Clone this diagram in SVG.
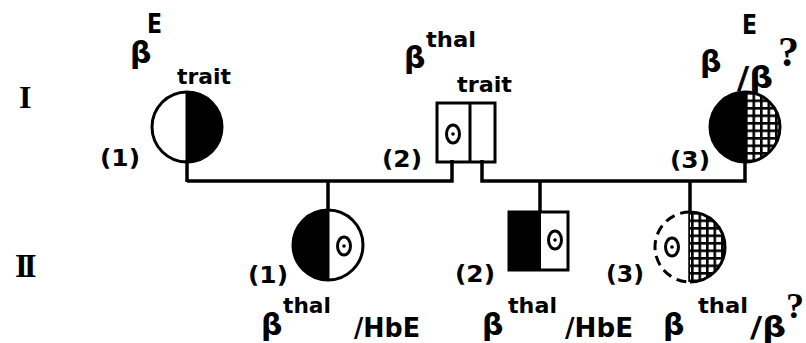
<svg xmlns="http://www.w3.org/2000/svg" width="806" height="343" viewBox="0 0 806 343">
<style>
.t{font-family:"DejaVu Sans","Liberation Sans",Arial,sans-serif;font-weight:bold;fill:#000}
.r{font-family:"Liberation Serif","Times New Roman",serif;font-weight:bold;fill:#000}
.ln{stroke:#000;stroke-width:3.5;fill:none}
.o{stroke:#000;stroke-width:3;fill:none}
.blk{fill:#000}
</style>
<defs>
<pattern id="grid" patternUnits="userSpaceOnUse" x="745" y="92" width="7.5" height="7.5">
<rect width="7.5" height="7.5" fill="#000"/>
<rect x="2.6" y="2.6" width="4.9" height="4.9" fill="#fff"/>
</pattern>
<pattern id="grid2" patternUnits="userSpaceOnUse" x="691" y="212" width="7.5" height="7.5">
<rect width="7.5" height="7.5" fill="#000"/>
<rect x="2.6" y="2.6" width="4.9" height="4.9" fill="#fff"/>
</pattern>
</defs>

<text class="r" x="19" y="108" font-size="32" font-weight="normal">I</text>
<text class="r" x="15" y="277" font-size="33" letter-spacing="-4">II</text>

<g id="connectors">
<line class="ln" x1="187" y1="160" x2="187" y2="182"/>
<polyline class="ln" points="187,181 452,181 452,160"/>
<polyline class="ln" points="482,160 482,181 745,181 745,160"/>
<line class="ln" x1="328" y1="181" x2="328" y2="210"/>
<line class="ln" x1="540" y1="181" x2="540" y2="212"/>
<line class="ln" x1="690" y1="181" x2="690" y2="282"/>
</g>

<g id="I-1">
<path class="blk" d="M187,92 A35,35 0 0 1 187,162 Z"/>
<circle class="o" cx="187" cy="127" r="35"/>
<line class="o" x1="187" y1="92" x2="187" y2="162"/>
<text class="t" x="130" y="63" font-size="30">β</text>
<text class="t" x="147" y="33" font-size="26" textLength="15" lengthAdjust="spacingAndGlyphs">E</text>
<text class="t" x="177" y="84" font-size="22" textLength="54" lengthAdjust="spacingAndGlyphs">trait</text>
<text class="t" x="100" y="166" font-size="23" textLength="40" lengthAdjust="spacingAndGlyphs">(1)</text>
</g>

<g id="I-2">
<rect class="o" x="437" y="103" width="58" height="59" fill="#fff"/>
<line class="o" x1="470" y1="103" x2="470" y2="162"/>
<ellipse class="o" cx="453" cy="134" rx="6.5" ry="9" stroke-width="2.5"/>
<circle class="blk" cx="453" cy="134" r="1.8"/>
<text class="t" x="404" y="68" font-size="30">β</text>
<text class="t" x="426" y="47" font-size="22" textLength="50" lengthAdjust="spacingAndGlyphs">thal</text>
<text class="t" x="457" y="92" font-size="22" textLength="55" lengthAdjust="spacingAndGlyphs">trait</text>
<text class="t" x="382" y="167" font-size="23" textLength="40" lengthAdjust="spacingAndGlyphs">(2)</text>
</g>

<g id="I-3">
<path class="blk" d="M745,92 A35,35 0 0 0 745,162 Z"/>
<path d="M745,92 A35,35 0 0 1 745,162 Z" fill="url(#grid)"/>
<circle class="o" cx="745" cy="127" r="35"/>
<line class="o" x1="745" y1="92" x2="745" y2="162"/>
<text class="t" x="700" y="72" font-size="30">β</text>
<text class="t" x="742" y="34" font-size="26" textLength="15" lengthAdjust="spacingAndGlyphs">E</text>
<text class="t" x="737" y="88" font-size="30" textLength="36" lengthAdjust="spacingAndGlyphs">/β</text>
<text class="r" x="778" y="66" font-size="42">?</text>
<text class="t" x="670" y="168" font-size="23" textLength="40" lengthAdjust="spacingAndGlyphs">(3)</text>
</g>

<g id="II-1">
<path class="blk" d="M328,210 A35,35 0 0 0 328,280 Z"/>
<circle class="o" cx="328" cy="245" r="35"/>
<line class="o" x1="328" y1="210" x2="328" y2="280"/>
<ellipse class="o" cx="344" cy="246" rx="6.5" ry="9" stroke-width="2.5"/>
<circle class="blk" cx="344" cy="246" r="1.8"/>
<text class="t" x="248" y="283" font-size="23" textLength="40" lengthAdjust="spacingAndGlyphs">(1)</text>
<text class="t" x="261" y="335" font-size="30">β</text>
<text class="t" x="283" y="313" font-size="22" textLength="48" lengthAdjust="spacingAndGlyphs">thal</text>
<text class="t" x="354" y="337" font-size="26" textLength="66" lengthAdjust="spacingAndGlyphs">/HbE</text>
</g>

<g id="II-2">
<rect class="blk" x="509" y="212" width="32" height="58"/>
<rect class="o" x="509" y="212" width="59" height="58"/>
<ellipse class="o" cx="555" cy="240" rx="6.5" ry="9" stroke-width="2.5"/>
<circle class="blk" cx="555" cy="240" r="1.8"/>
<text class="t" x="455" y="282" font-size="23" textLength="40" lengthAdjust="spacingAndGlyphs">(2)</text>
<text class="t" x="482" y="335" font-size="30">β</text>
<text class="t" x="508" y="313" font-size="22" textLength="49" lengthAdjust="spacingAndGlyphs">thal</text>
<text class="t" x="565" y="337" font-size="26" textLength="68" lengthAdjust="spacingAndGlyphs">/HbE</text>
</g>

<g id="II-3">
<path d="M690,212 A35,35 0 0 1 690,282 Z" fill="url(#grid2)"/>
<path class="o" d="M690,212 A35,35 0 0 1 690,282"/>
<path class="o" d="M690,212 A35,35 0 0 0 690,282" stroke-dasharray="10,6"/>
<ellipse class="o" cx="672" cy="247" rx="6.5" ry="9" stroke-width="2.5"/>
<circle class="blk" cx="672" cy="247" r="1.8"/>
<text class="t" x="606" y="282" font-size="23" textLength="38" lengthAdjust="spacingAndGlyphs">(3)</text>
<text class="t" x="663" y="335" font-size="30">β</text>
<text class="t" x="698" y="313" font-size="22" textLength="50" lengthAdjust="spacingAndGlyphs">thal</text>
<text class="t" x="750" y="337" font-size="28" textLength="36" lengthAdjust="spacingAndGlyphs">/β</text>
<text class="r" x="786" y="318" font-size="36">?</text>
</g>
</svg>
